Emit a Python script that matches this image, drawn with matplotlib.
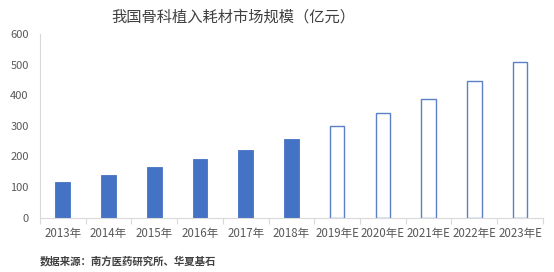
import matplotlib
matplotlib.use("Agg")
import matplotlib.pyplot as plt
import numpy as np

plt.rcParams["font.family"] = ["Noto Sans CJK SC", "DejaVu Sans"]

# data
years = ["2013年", "2014年", "2015年", "2016年", "2017年", "2018年",
         "2019年E", "2020年E", "2021年E", "2022年E", "2023年E"]
market = [116, 139, 164, 190, 220, 256, 298, 341, 389, 446, 508]
is_forecast = [False] * 6 + [True] * 5

blue = "#4472C4"
grey_txt = "#595959"
axis_col = "#D9D9D9"

fig = plt.figure(figsize=(5.54, 2.72), dpi=100)
ax = fig.add_axes([0.072, 0.2, 0.908, 0.675])

x = np.arange(len(years))
for xi, v, fc in zip(x, market, is_forecast):
    if fc:
        ax.bar(xi, v, width=0.32, facecolor="white", edgecolor="#5B80C8", lw=1.0)
    else:
        ax.bar(xi, v, width=0.32, color=blue, edgecolor=blue, lw=0.6)

ax.set_xlim(-0.5, len(years) - 0.5)
ax.set_ylim(0, 600)
ax.set_yticks(range(0, 601, 100))
ax.set_xticks(x)
ax.set_xticklabels(years)
ax.set_xticks(np.arange(-0.5, len(years), 1.0), minor=True)
ax.tick_params(axis="x", which="major", length=0, labelsize=8.3, colors=grey_txt, pad=7)
ax.tick_params(axis="x", which="minor", length=4, color=axis_col, width=0.8)
ax.tick_params(axis="y", length=0, labelsize=8, colors=grey_txt, pad=8)

for s in ["top", "right"]:
    ax.spines[s].set_visible(False)
for s in ["left", "bottom"]:
    ax.spines[s].set_color(axis_col)
    ax.spines[s].set_linewidth(0.8)

fig.text(0.422, 0.937, "我国骨科植入耗材市场规模（亿元）", ha="center", va="center",
         fontsize=11, color="#404040")
fig.text(0.072, 0.04, "数据来源：南方医药研究所、华夏基石", ha="left", va="center",
         fontsize=7.5, color="#404040", fontweight="bold")

fig.savefig("out.png", dpi=100)
